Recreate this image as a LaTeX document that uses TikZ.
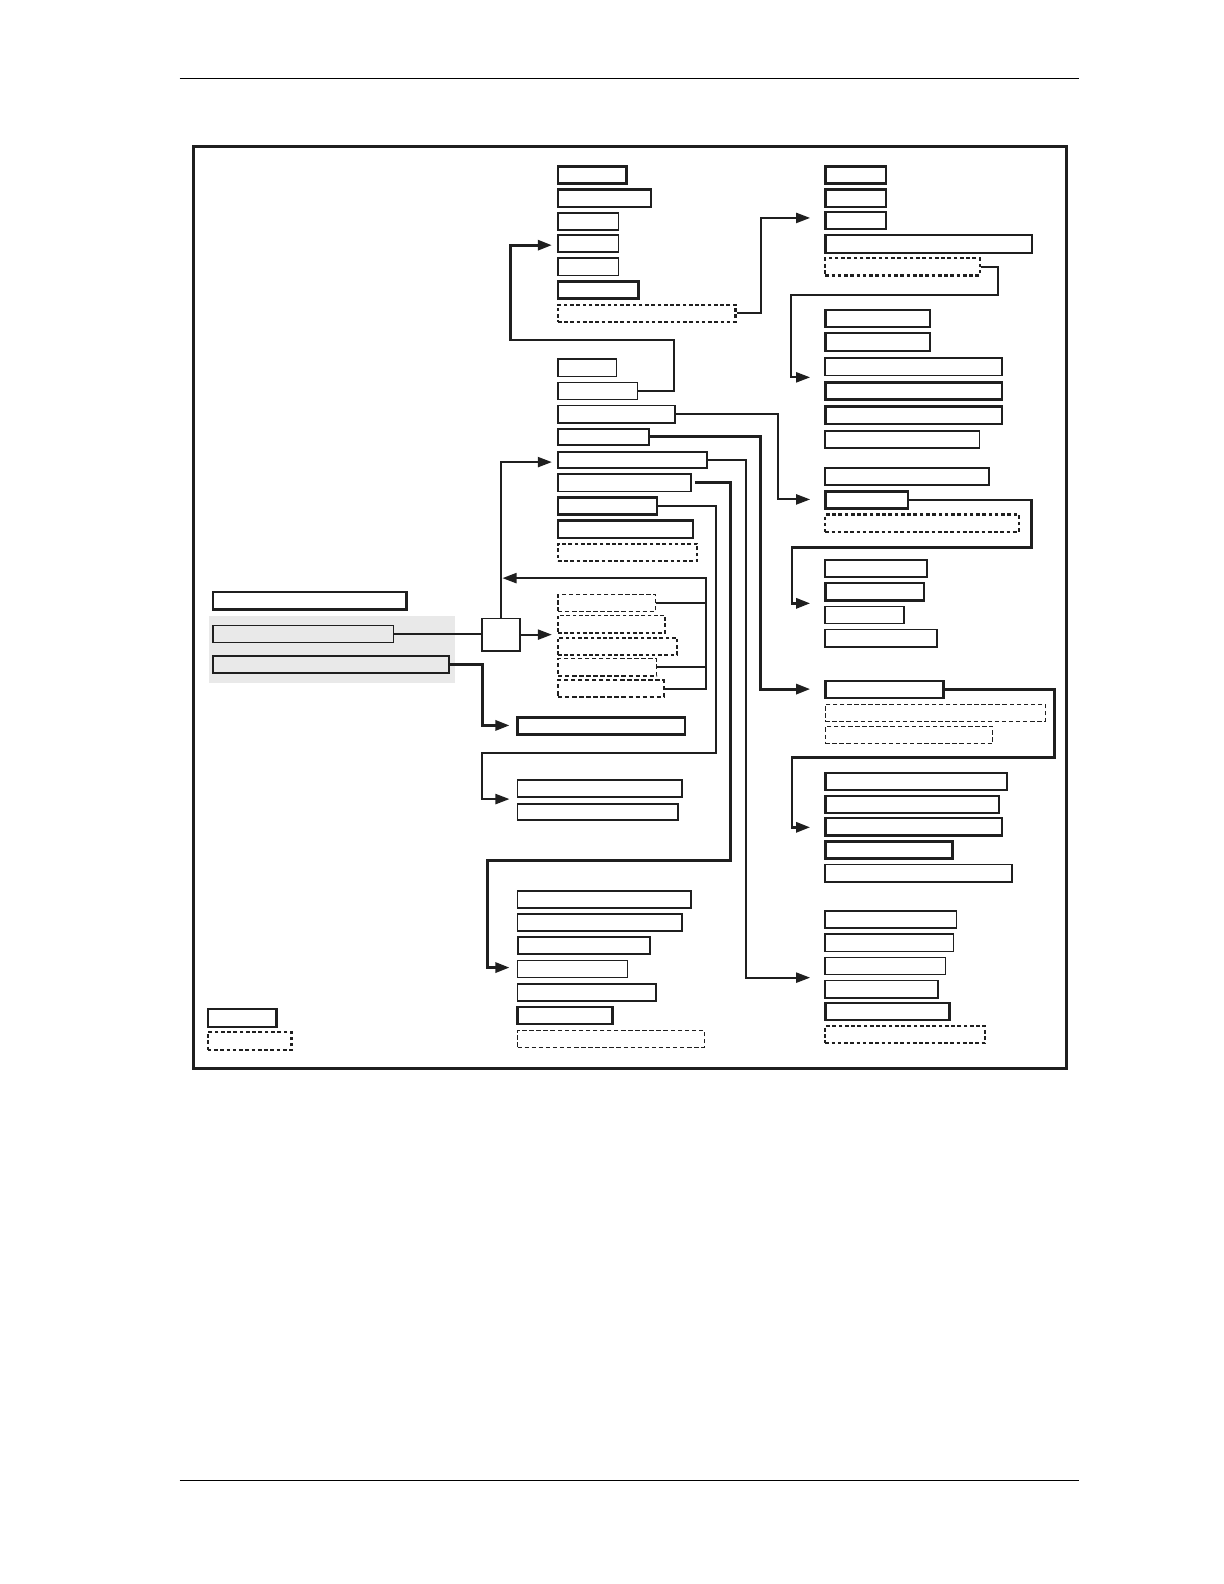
\documentclass[tikz,border=0pt]{standalone}
\usetikzlibrary{arrows.meta,fit}
\newcommand{\mybox}[6]{\node[#6,fit={(#2,#3) (#4,#5)}] (#1) {};}
\begin{document}
\begin{tikzpicture}[x=0.5pt,y=-0.5pt,
 box/.style={draw=black!88,line width=0.8pt,inner sep=0pt,fill=white},
 tbox/.style={box,line width=1.2pt},
 dbox/.style={box,line width=0.6pt,dash pattern=on 2.2pt off 1.3pt},
 tdbox/.style={box,line width=1.1pt,dash pattern=on 1.8pt off 1.3pt},
 gbox/.style={box,fill=gray!17,line width=0.7pt},
 conn/.style={draw=black!88,line width=1.05pt},
 tconn/.style={conn,line width=1.4pt},
 arr/.style={-{Triangle[length=7pt,width=5pt]}},
 rule/.style={draw=black,line width=0.55pt},
 frame/.style={draw=black!88,line width=1.5pt}
]
\useasboundingbox (0,0) rectangle (1213,1570);
% page rules and frame
\coordinate (h1) at (178,78); \coordinate (h2) at (1069,78);
\coordinate (f1) at (178,1467); \coordinate (f2) at (1069,1467);
\draw[rule] (h1) -- (h2);
\draw[rule] (f1) -- (f2);
\node[frame,inner sep=0pt,fit={(192,145) (1057,1059)}] (frm) {};
% gray zone
\node[fill=gray!17,inner sep=0pt,fit={(207,611) (451,677)}] (gz) {};
% left boxes
\mybox{L1}{211}{587}{403}{604}{tbox}
\mybox{L2}{211}{620}{390}{637}{gbox}
\mybox{L3}{211}{650}{445}{667}{gbox}
\mybox{S}{478}{613}{515}{645}{box,line width=0.95pt}
% legend
\mybox{LG1}{206}{1000}{274}{1018}{tbox}
\mybox{LG2}{206}{1023}{289}{1041}{tdbox}
% column A
\mybox{A1}{553}{165}{621}{182}{tbox}
\mybox{A2}{553}{188}{645}{205}{tbox}
\mybox{A3}{553}{211}{613}{228}{box}
\mybox{A4}{553}{233}{613}{250}{box}
\mybox{A5}{553}{256}{613}{273}{box}
\mybox{A6}{553}{279}{633}{296}{tbox}
\mybox{A7}{553}{302}{729}{319}{tdbox}
% column B
\mybox{B1}{553}{356}{611}{373}{box}
\mybox{B2}{553}{379}{632}{396}{box}
\mybox{B3}{553}{402}{669}{419}{box}
\mybox{B4}{553}{425}{643}{441}{box}
\mybox{B5}{553}{448}{701}{464}{box}
\mybox{B6}{553}{470}{685}{487}{box}
\mybox{B7}{553}{493}{651}{510}{tbox}
\mybox{B8}{553}{516}{687}{533}{tbox}
\mybox{B9}{553}{539}{691}{556}{tdbox}
% column C (dashed)
\mybox{C1}{553}{589}{650}{606}{dbox}
\mybox{C2}{553}{610}{659}{627}{tdbox,line width=0.9pt}
\mybox{C3}{553}{632}{671}{649}{tdbox,line width=0.9pt}
\mybox{C4}{553}{653}{651}{670}{dbox}
\mybox{C5}{553}{674}{658}{691}{dbox,line width=0.8pt}
% lower middle boxes
\mybox{K}{513}{711}{679}{728}{tbox}
\mybox{G1}{513}{773}{676}{790}{box}
\mybox{G2}{513}{797}{672}{813}{box}
\mybox{H1}{513}{883}{685}{900}{box}
\mybox{H2}{513}{906}{676}{923}{box}
\mybox{H3}{513}{929}{644}{946}{box,line width=1pt}
\mybox{H4}{513}{952}{622}{969}{box}
\mybox{H5}{513}{975}{650}{992}{box}
\mybox{H6}{513}{998}{607}{1015}{tbox}
\mybox{H7}{513}{1021}{698}{1038}{dbox}
% right column
\mybox{D1}{818}{165}{878}{182}{tbox}
\mybox{D2}{818}{188}{878}{205}{tbox}
\mybox{D3}{818}{210}{878}{227}{tbox}
\mybox{D4}{818}{233}{1023}{251}{tbox}
\mybox{D5}{818}{256}{971}{273}{tdbox}
\mybox{P1}{818}{307}{922}{324}{tbox}
\mybox{P2}{818}{330}{922}{348}{tbox}
\mybox{P3}{818}{355}{993}{372}{box}
\mybox{P4}{818}{379}{993}{396}{tbox}
\mybox{P5}{818}{403}{993}{420}{tbox}
\mybox{P6}{818}{427}{971}{444}{box}
\mybox{Q1}{818}{464}{980}{481}{box}
\mybox{Q2}{818}{487}{900}{504}{tbox}
\mybox{Q3}{818}{510}{1010}{527}{tdbox}
\mybox{R1}{818}{555}{919}{572}{box}
\mybox{R2}{818}{578}{916}{595}{tbox}
\mybox{R3}{818}{601}{896}{618}{box}
\mybox{R4}{818}{624}{929}{641}{box}
\mybox{F1}{818}{675}{935}{692}{tbox}
\mybox{F2}{818}{698}{1036}{715}{dbox}
\mybox{F3}{818}{720}{984}{737}{dbox}
\mybox{T1}{818}{766}{998}{783}{tbox}
\mybox{T2}{818}{789}{990}{806}{tbox}
\mybox{T3}{818}{811}{993}{828}{tbox}
\mybox{T4}{818}{834}{944}{851}{tbox}
\mybox{T5}{818}{857}{1003}{874}{box}
\mybox{U1}{818}{903}{948}{920}{box}
\mybox{U2}{818}{926}{945}{943}{box}
\mybox{U3}{818}{949}{937}{966}{box}
\mybox{U4}{818}{972}{930}{989}{box}
\mybox{U5}{818}{994}{941}{1011}{tbox}
\mybox{U6}{818}{1017}{976}{1034}{tdbox}
% arrow end points
\coordinate (tA4) at (547,243);
\coordinate (tB5) at (547,458);
\coordinate (tC) at (547,629);
\coordinate (tK) at (505,719);
\coordinate (tG) at (505,792);
\coordinate (tH) at (505,959);
\coordinate (tD3) at (803,216);
\coordinate (tP) at (803,374);
\coordinate (tQ2) at (803,495);
\coordinate (tR) at (803,598);
\coordinate (tF1) at (803,683);
\coordinate (tT) at (803,820);
\coordinate (tU) at (803,969);
\coordinate (tBr) at (498,573);
\coordinate (brk) at (700,573);
% connectors
\draw[conn] (L2.east) -- (L2.east -| S.west);
\draw[conn,arr] (S.east) -- (tC);
\draw[conn,arr] (S.north) |- (tB5);
\draw[conn] (C1.east) -- (C1.east -| brk);
\draw[conn] (C4.east) -- (C4.east -| brk);
\draw[conn,arr] (C5.east) -| (brk) -- (tBr);
\draw[tconn,arr] (L3.east) -| (478,719) -- (tK);
\draw[tconn,arr] (B2.east) -| (668,337) -| (506,243) -- (tA4);
\draw[conn,arr] (A7.east) -| (754,216) -- (tD3);
\draw[conn,arr] (B3.east) -| (771,495) -- (tQ2);
\draw[tconn,arr] (B4.east) -| (754,683) -- (tF1);
\draw[conn,arr] (B5.east) -| (739,969) -- (tU);
\draw[tconn,arr,shorten <=1.5pt] (B6.east) -| (724,853) -| (483,959) -- (tH);
\draw[conn,arr] (B7.east) -| (710,746) -| (478,792) -- (tG);
\draw[conn,arr] (D5.east) -| (989,292) -| (784,374) -- (tP);
\draw[tconn,arr] (Q2.east) -| (1022,543) -| (785,598) -- (tR);
\draw[tconn,arr] (F1.east) -| (1045,751) -| (785,820) -- (tT);
\end{tikzpicture}
\end{document}
